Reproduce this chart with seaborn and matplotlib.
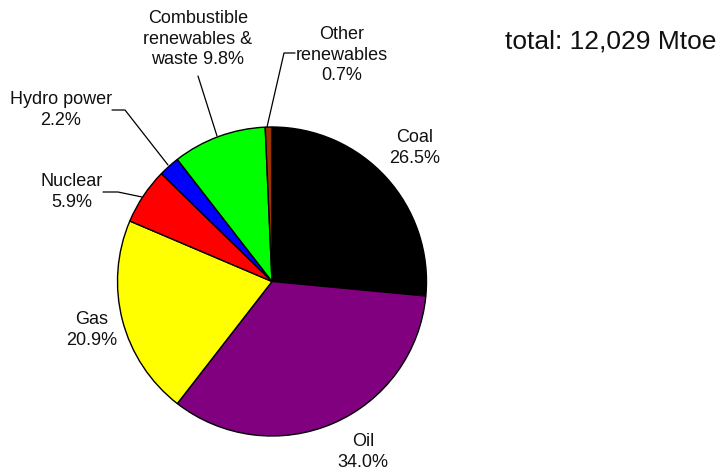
import seaborn as sns
import matplotlib.pyplot as plt

# world primary energy supply shares (%)
sources = ["Coal", "Oil", "Gas", "Nuclear", "Hydro power",
           "Combustible\nrenewables &\nwaste", "Other\nrenewables"]
shares = [26.5, 34.0, 20.9, 5.9, 2.2, 9.8, 0.7]
colors = ["#000000", "#800080", "#FFFF00", "#FF0000", "#0000FF", "#00FF00", "#993300"]
total_text = "total: 12,029 Mtoe"

sns.set_style("white")
plt.rcParams["font.family"] = ["Liberation Sans", "DejaVu Sans"]

fig = plt.figure(figsize=(7.2, 4.76), dpi=100)
ax = fig.add_axes([0, 0, 1, 1])

# y axis inverted -> counterclock=True is clockwise on screen, -90 is top
ax.pie(shares, colors=colors, startangle=-90, counterclock=True,
       center=(272, 281.5), radius=154.5, frame=True,
       wedgeprops=dict(edgecolor="black", linewidth=1))
ax.set_xlim(0, 720)
ax.set_ylim(476, 0)  # pixel-like coords, y down
ax.set_aspect("equal")
ax.axis("off")

# where each label sits
label_pos = [(415, 148), (363, 452), (92, 330), (72, 192), (61, 110), (198, 39), (342, 55)]
for name, val, (x, y) in zip(sources, shares, label_pos):
    sep = " " if name.startswith("Combustible") else "\n"
    ax.text(x, y, f"{name}{sep}{val:.1f}%", ha="center", va="center", fontsize=13,
            linespacing=1.25, color="#111111")

# leader lines for the small slices
leaders = [
    [(142, 197), (118, 192), (103, 192)],
    [(168, 165), (125, 110), (112, 110)],
    [(217, 136), (198, 76)],
    [(267, 127), (284, 53), (295, 53)],
]
for pts in leaders:
    xs, ys = zip(*pts)
    ax.plot(xs, ys, color="black", linewidth=0.9)

ax.text(611, 42, total_text, ha="center", va="center", fontsize=19, color="#111111")

fig.savefig("out.png", dpi=100)
